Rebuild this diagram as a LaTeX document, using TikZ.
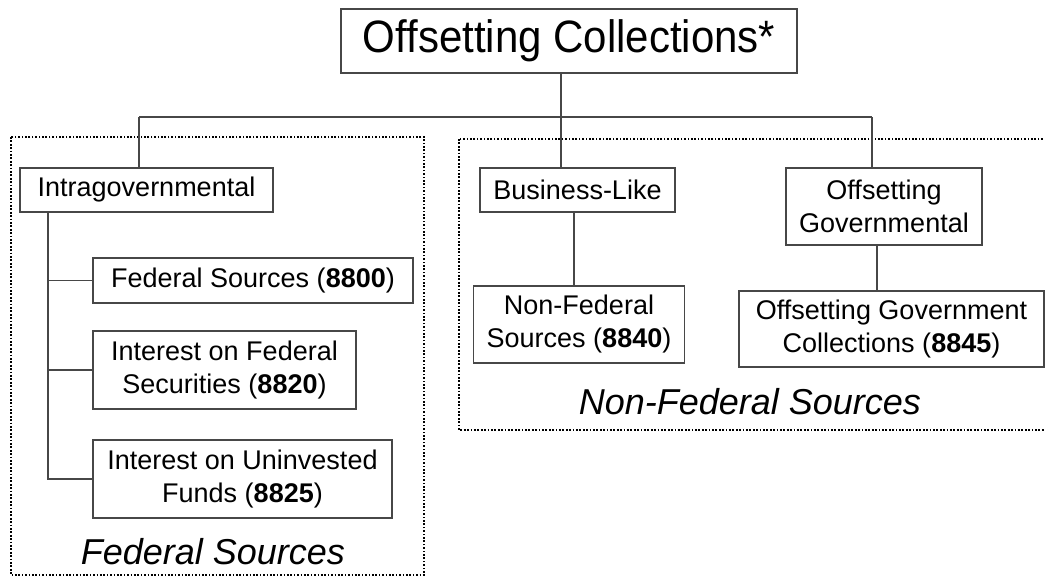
\documentclass[tikz,border=0pt]{standalone}
\usepackage{fontspec}
\setmainfont{Liberation Sans}
\begin{document}
\begin{tikzpicture}[x=1pt,y=-1pt,
  box/.style={draw=black!72,line width=1.6pt,fill=white,inner sep=0pt,align=center,
    font=\fontsize{27}{33}\selectfont},
  conn/.style={draw=black!72,line width=1.6pt},
  group/.style={draw=black,line width=1.8pt,dash pattern=on 1.7pt off 1.7pt},
  grouplabel/.style={font=\fontsize{36}{40}\selectfont\itshape,inner sep=0pt}]
\useasboundingbox (0,0) rectangle (1045,576);
% groups
\draw[group] (11,137) rectangle (424,575);
\draw[group] (459,139) rectangle (1060,430);
% nodes
\node[box,minimum width=456pt,minimum height=64pt,font=\fontsize{42}{46}\selectfont] (title) at (569,41) {\scalebox{1}[1.08]{Offsetting Collections*}};
\node[box,minimum width=253pt,minimum height=44pt] (intra) at (146.5,190) {Intragovernmental};
\node[box,minimum width=320pt,minimum height=45pt] (fed) at (253,280.5) {Federal Sources (\textbf{8800})};
\node[box,minimum width=263pt,minimum height=78pt] (ifs) at (224.5,370) {Interest on Federal\\Securities (\textbf{8820})};
\node[box,minimum width=299pt,minimum height=78pt] (iuf) at (242.5,479) {Interest on Uninvested\\Funds (\textbf{8825})};
\node[box,minimum width=195pt,minimum height=44pt] (biz) at (577.5,190) {Business-Like};
\node[box,minimum width=196pt,minimum height=77pt] (offgov) at (884,206.5) {Offsetting\\Governmental};
\node[box,minimum width=211pt,minimum height=77pt] (nfs) at (579,324.5) {Non-Federal\\Sources (\textbf{8840})};
\node[box,minimum width=305pt,minimum height=76pt] (ogc) at (891.5,329) {Offsetting Government\\Collections (\textbf{8845})};
\node[grouplabel] (fedlab) at (213,552) {Federal Sources};
\node[grouplabel] (nfedlab) at (750,402) {Non-Federal Sources};
% helper coordinates
\coordinate (c1) at (561,117);
\coordinate (cl) at (139,117);
\coordinate (cr) at (872,117);
\coordinate (trunk) at (48,0);
\coordinate (bl) at (574,0);
\coordinate (ol) at (877,0);
% connectors
\draw[conn] (title.south -| c1) -- (c1 |- biz.north);
\draw[conn] (cl) -- (cr);
\draw[conn] (cl) -- (cl |- intra.north);
\draw[conn] (cr) -- (cr |- offgov.north);
\draw[conn] (trunk |- intra.south) -- (trunk |- iuf.west) -- (iuf.west);
\draw[conn] (trunk |- fed.west) -- (fed.west);
\draw[conn] (trunk |- ifs.west) -- (ifs.west);
\draw[conn] (bl |- biz.south) -- (bl |- nfs.north);
\draw[conn] (ol |- offgov.south) -- (ol |- ogc.north);
\end{tikzpicture}
\end{document}
